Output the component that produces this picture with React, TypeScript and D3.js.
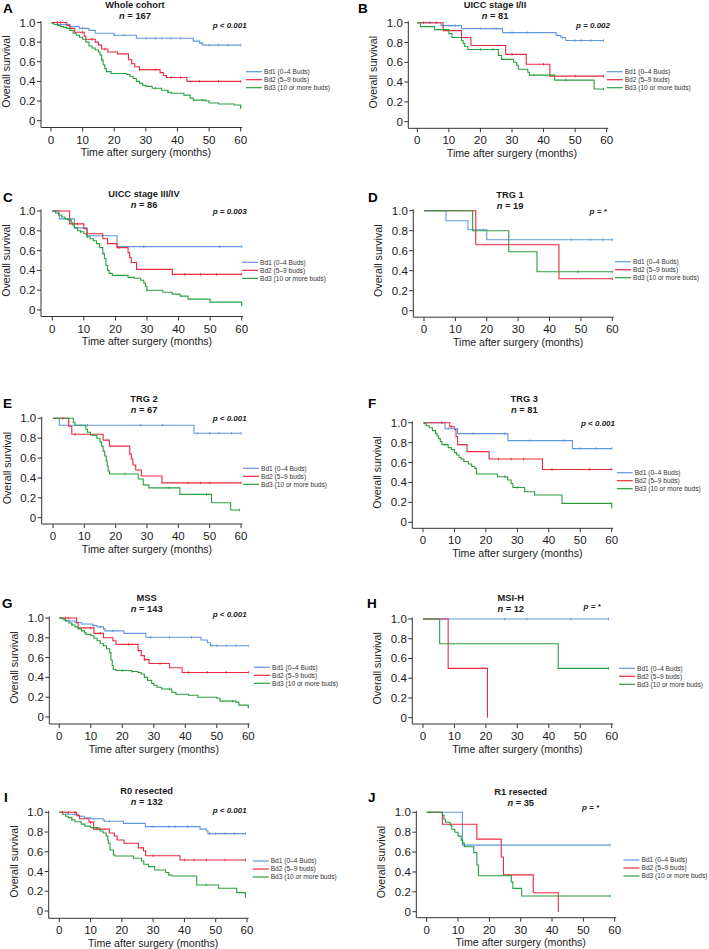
import React from "react";
import * as d3 from "d3";

type Pt = [number, number];

const seriesColors = ["#5f98e0", "#e8293f", "#2b9e3f"];
const legendLabels = ["Bd1 (0–4 Buds)", "Bd2 (5–9 buds)", "Bd3 (10 or more buds)"];
const xTicks = [0, 10, 20, 30, 40, 50, 60];
const yTicks = [0, 0.2, 0.4, 0.6, 0.8, 1.0];
const yTickLabels = ["0", "0.2", "0.4", "0.6", "0.8", "1.0"];

const panelLetters = ["A", "B", "C", "D", "E", "F", "G", "H", "I", "J"];
const panelTitles = ["Whole cohort", "UICC stage I/II", "UICC stage III/IV", "TRG 1", "TRG 2", "TRG 3", "MSS", "MSI-H", "R0 resected", "R1 resected"];
const panelN = ["167", "81", "86", "19", "67", "81", "143", "12", "132", "35"];
const panelP = ["p < 0.001", "p = 0.002", "p = 0.003", "p = *", "p < 0.001", "p < 0.001", "p < 0.001", "p = *", "p < 0.001", "p = *"];

// Kaplan–Meier steps: [time (months), survival from that time]
const stepsA: Pt[][] = [
  [[0,1],[2,0.98],[6,0.96],[9,0.94],[12,0.92],[14,0.89],[20,0.87],[27,0.84],[45,0.81],[47,0.79],[48,0.77],[60,0.77]],
  [[0,1],[5,0.97],[6,0.94],[7.5,0.9],[10.5,0.86],[11,0.83],[14,0.8],[15,0.77],[16,0.73],[18,0.7],[21,0.68],[24.5,0.62],[25.5,0.58],[26.5,0.55],[28,0.52],[34.5,0.49],[35.5,0.46],[36.5,0.44],[43,0.4],[60,0.4]],
  [[0,1],[0.5,0.99],[1,0.98],[2,0.97],[3,0.96],[4,0.95],[5,0.94],[6,0.92],[7,0.89],[8,0.87],[9,0.85],[10,0.83],[11,0.8],[12,0.76],[13,0.74],[14,0.72],[15,0.7],[15.5,0.67],[16,0.62],[16.5,0.57],[17,0.53],[17.5,0.5],[19,0.48],[24,0.47],[25,0.45],[26,0.43],[27,0.4],[28,0.38],[29,0.36],[30,0.35],[32,0.33],[35,0.31],[37,0.29],[38,0.28],[42,0.26],[44,0.23],[45,0.21],[49,0.2],[50,0.18],[53,0.17],[58,0.16],[60,0.13]],
];
const censorA = [
  [10,20,23,30,33,35,38,41,47.5,50,53,56,60],
  [2,3,10,13,17,28,33,38,41,47,53,60],
  [16,33,37,48,60],
];

const stepsB: Pt[][] = [
  [[0,1],[7.5,0.97],[14,0.94],[27,0.9],[44,0.87],[45.5,0.85],[47,0.82],[59,0.82]],
  [[0,1],[8.2,0.92],[14,0.85],[17,0.77],[28,0.68],[34.5,0.58],[42,0.46],[59,0.46]],
  [[0,1],[1,0.96],[5.5,0.93],[10,0.89],[11,0.85],[14,0.82],[14.5,0.79],[15,0.76],[16,0.73],[25.7,0.67],[26.7,0.63],[30.5,0.6],[31.5,0.57],[32,0.53],[35,0.5],[35.5,0.47],[43.5,0.42],[56,0.33],[59,0.33]],
];
const censorB = [
  [3,8,10,12,20,25,30,35,44.5,46,50,52,55,59],
  [2,4,6,30,40,50,59],
  [20,24,37,47,59],
];

const stepsC: Pt[][] = [
  [[0,1],[2.2,0.92],[7,0.83],[11,0.75],[20.5,0.64],[60,0.64]],
  [[0,1],[5.5,0.87],[10,0.82],[11,0.77],[16,0.72],[17.5,0.67],[20.5,0.63],[24,0.58],[24.5,0.53],[25,0.48],[26.7,0.41],[38,0.36],[60,0.36]],
  [[0,1],[1,0.98],[2,0.96],[3,0.94],[4,0.92],[5,0.91],[6,0.88],[6.5,0.86],[7,0.83],[8,0.8],[9,0.79],[10,0.77],[11,0.74],[12,0.72],[13,0.7],[14,0.67],[15,0.63],[16,0.57],[16.5,0.52],[17,0.45],[17.5,0.4],[18,0.37],[19,0.35],[24,0.33],[26,0.32],[28,0.3],[29,0.27],[29.5,0.24],[30,0.2],[35,0.18],[38,0.16],[40.5,0.14],[43,0.11],[50,0.08],[60,0.05]],
];
const censorC = [
  [29,53,60],
  [8,11,21,42,47,52,60],
  [9,11,16,30,60],
];

const stepsD: Pt[][] = [
  [[0,1],[7,0.9],[14,0.81],[20,0.71],[60,0.71]],
  [[0,1],[16.5,0.66],[43,0.32],[60,0.32]],
  [[0,1],[15.5,0.8],[27,0.59],[36,0.39],[60,0.39]],
];
const censorD = [
  [19,47,53,57,60],
  [60],
  [49,60],
];

const stepsE: Pt[][] = [
  [[0,1],[2,0.93],[45,0.85],[60,0.85]],
  [[0,1],[5,0.92],[6,0.84],[16,0.78],[18,0.72],[24.5,0.64],[25,0.59],[25.5,0.53],[26.4,0.48],[28.2,0.42],[34.8,0.35],[60,0.35]],
  [[0,1],[6.5,0.96],[7,0.93],[10.5,0.89],[11,0.86],[12,0.83],[14,0.8],[15,0.76],[15.5,0.72],[16,0.67],[16.5,0.62],[17,0.57],[17.3,0.52],[17.6,0.47],[18,0.44],[27.2,0.39],[28.8,0.33],[30.6,0.3],[40.5,0.235],[50.6,0.15],[56.7,0.077],[59.5,0.077]],
];
const censorE = [
  [7,9,11,28,35,46,50,53,57,60],
  [3,7,43,47,50,60],
  [23,37,49,59.5],
];

const stepsF: Pt[][] = [
  [[0,1],[7,0.94],[11,0.89],[27,0.82],[47.5,0.74],[60,0.74]],
  [[0,1],[8.5,0.96],[10,0.93],[10.5,0.86],[11,0.78],[14,0.71],[21,0.635],[38,0.53],[60,0.53]],
  [[0,1],[0.5,0.99],[1,0.97],[2,0.95],[3,0.92],[4,0.89],[4.5,0.866],[5,0.84],[5.5,0.81],[6,0.78],[8,0.75],[9,0.73],[10,0.7],[10.7,0.675],[11.5,0.65],[12.1,0.635],[13,0.61],[14.4,0.585],[15.5,0.56],[16.5,0.54],[17,0.485],[23.7,0.458],[26.9,0.425],[28,0.39],[28.6,0.35],[32.3,0.307],[35.5,0.274],[44.2,0.19],[60,0.15]],
];
const censorF = [
  [6,8,10,16,26,34,45,50,55,60],
  [6,9,24,28,32,41,53,60],
  [7,26,30,60],
];

const stepsG: Pt[][] = [
  [[0,1],[1.5,0.98],[2,0.97],[5,0.955],[7,0.94],[10.5,0.925],[12,0.91],[14,0.89],[14.5,0.87],[20.5,0.845],[27.5,0.805],[45,0.778],[47,0.75],[48,0.72],[60,0.72]],
  [[0,1],[5.5,0.95],[6,0.9],[11,0.845],[14,0.8],[17,0.77],[18,0.734],[25,0.67],[26,0.62],[27,0.58],[28.5,0.54],[35,0.498],[39,0.45],[60,0.45]],
  [[0,1],[1,0.99],[2,0.97],[3,0.95],[4,0.93],[5,0.91],[6,0.89],[7,0.87],[8,0.85],[8.5,0.835],[10,0.82],[11,0.795],[12,0.77],[13,0.74],[14,0.72],[15,0.69],[16,0.65],[16.4,0.576],[16.8,0.52],[17.1,0.48],[18,0.47],[23,0.46],[25,0.45],[26,0.434],[27,0.4],[28,0.37],[29.3,0.34],[30,0.32],[31,0.3],[32.5,0.283],[35.7,0.25],[37,0.23],[41,0.22],[44,0.2],[50,0.19],[51,0.16],[56,0.15],[57,0.12],[60,0.098]],
];
const censorG = [
  [3,11,13,17,29,35,42,48.5,50,53,56,60],
  [2,3,10,13,22,27,32,41,47,53,60],
  [4,20,23,35,55,60],
];

const stepsH: Pt[][] = [
  [[0,1],[59,1]],
  [[0,1],[8,0.5],[20.5,0]],
  [[0,1],[5.3,0.75],[43,0.5],[59,0.5]],
];
const censorH = [
  [6,26,33,47,59],
  [],
  [59],
];

const stepsI: Pt[][] = [
  [[0,1],[2.5,0.98],[6,0.96],[8,0.945],[10,0.935],[14,0.92],[14.5,0.91],[20.5,0.888],[27.5,0.855],[45,0.83],[47,0.81],[47.5,0.784],[59.5,0.784]],
  [[0,1],[5.5,0.97],[6.5,0.935],[9.5,0.9],[11,0.83],[16,0.79],[17.6,0.76],[18.5,0.72],[20.7,0.686],[25.3,0.64],[26.9,0.61],[27.6,0.56],[38.6,0.517],[59.5,0.517]],
  [[0,1],[1,0.98],[2,0.96],[2.9,0.946],[4,0.925],[5,0.905],[7,0.88],[8.2,0.86],[10,0.845],[12,0.84],[13,0.81],[14,0.79],[15,0.76],[15.5,0.72],[15.7,0.686],[16.2,0.618],[17.3,0.568],[17.8,0.557],[23.7,0.534],[26.3,0.507],[27,0.473],[28.5,0.45],[30.5,0.415],[34,0.39],[35,0.365],[36,0.355],[43.9,0.264],[50.9,0.23],[56.7,0.186],[59.5,0.145]],
];
const censorI = [
  [5,11,16,30,35,37,41,48,50,53,56,59.5],
  [1,3,5,10,12,30,40,43,47,53,59.5],
  [4,35,47,59.5],
];

const stepsJ: Pt[][] = [
  [[0,1],[11.4,0.67],[58.5,0.67]],
  [[0,1],[5,0.88],[16,0.73],[23.8,0.55],[24.5,0.37],[34,0.19],[42,0]],
  [[0,1],[5,0.97],[5.5,0.93],[6,0.9],[7.5,0.87],[8,0.83],[9,0.8],[10,0.76],[11,0.72],[11.5,0.69],[12,0.654],[15,0.594],[16,0.47],[16.5,0.362],[27,0.3],[27.5,0.235],[30.3,0.158],[58.5,0.158]],
];
const censorJ = [
  [58.5],
  [],
  [1,58.5],
];

const allSteps = [stepsA, stepsB, stepsC, stepsD, stepsE, stepsF, stepsG, stepsH, stepsI, stepsJ];
const allCensor = [censorA, censorB, censorC, censorD, censorE, censorF, censorG, censorH, censorI, censorJ];

// Layout (pixel frame of each panel)
const layouts = [
  { ax: 41, x0: 51, x60: 240.7, y1: 22.5, y0: 120.7, xa: 127.5, tx: 135, ty: 5, lx: 246, ly: 71.7, px: 246.7, py: 25, letX: 3, letY: 13 },
  { ax: 408.3, x0: 417.3, x60: 606.7, y1: 22.7, y0: 121.7, xa: 128.3, tx: 495, ty: 5, lx: 606.7, ly: 71.7, px: 610, py: 25, letX: 358, letY: 12.5 },
  { ax: 41, x0: 52.3, x60: 241.7, y1: 211, y0: 310, xa: 316.5, tx: 144, ty: 193.3, lx: 242, ly: 262.3, px: 246.7, py: 211, letX: 3, letY: 202 },
  { ax: 413.3, x0: 424, x60: 612.3, y1: 210.7, y0: 310.7, xa: 317.2, tx: 510, ty: 194.3, lx: 615, ly: 261.7, px: 606.7, py: 211, letX: 368, letY: 202 },
  { ax: 41.7, x0: 53, x60: 241, y1: 418.3, y0: 517.7, xa: 524, tx: 144, ty: 398.3, lx: 243, ly: 468.3, px: 246.7, py: 418.3, letX: 3, letY: 408 },
  { ax: 412.3, x0: 423, x60: 611.7, y1: 422.7, y0: 522.3, xa: 528.3, tx: 524.3, ty: 398.3, lx: 616.7, ly: 472.7, px: 615, py: 423.3, letX: 368, letY: 408 },
  { ax: 49.3, x0: 59.3, x60: 248.3, y1: 618, y0: 717, xa: 724, tx: 146.7, ty: 597.3, lx: 254, ly: 667.3, px: 246.7, py: 614.3, letX: 2, letY: 608 },
  { ax: 412.3, x0: 423, x60: 611.7, y1: 619, y0: 717.7, xa: 724, tx: 510.7, ty: 597.3, lx: 619, ly: 668.3, px: 600.7, py: 606, letX: 367, letY: 608 },
  { ax: 48.7, x0: 59.3, x60: 247, y1: 812.3, y0: 911, xa: 918.3, tx: 146.7, ty: 791, lx: 252.7, ly: 861, px: 246.7, py: 810, letX: 4, letY: 802 },
  { ax: 416.3, x0: 426.7, x60: 614.7, y1: 812.3, y0: 911.7, xa: 917.7, tx: 520.7, ty: 791.7, lx: 623.5, ly: 860, px: 599, py: 807.3, letX: 368, letY: 802 },
];

const FONT = "'Liberation Sans', Arial, Helvetica, sans-serif";
const TEXT = "#1a1a1a";
const AXIS = "#333";

function survAt(steps: Pt[], t: number) {
  let s = 1;
  for (const [tt, ss] of steps) {
    if (tt <= t + 1e-9) s = ss;
    else break;
  }
  return s;
}

function Panel({ i }: { i: number }) {
  const L = layouts[i];
  const x = d3.scaleLinear().domain([0, 60]).range([L.x0, L.x60]);
  const y = d3.scaleLinear().domain([0, 1]).range([L.y0, L.y1]);
  const line = d3
    .line<Pt>()
    .x((d) => x(d[0]))
    .y((d) => y(d[1]))
    .curve(d3.curveStepAfter);
  const steps = allSteps[i];
  const cens = allCensor[i];
  const midY = (L.y0 + L.y1) / 2;
  return (
    <g>
      <text x={L.letX} y={L.letY} fontSize={13.5} fontWeight="bold" fill="#000" fontFamily={FONT}>
        {panelLetters[i]}
      </text>
      <text x={L.tx} y={L.ty + 3.3} fontSize={9.3} fontWeight="bold" textAnchor="middle" fill={TEXT} fontFamily={FONT}>
        {panelTitles[i]}
      </text>
      <text x={L.tx} y={L.ty + 14.3} fontSize={9.3} fontWeight="bold" textAnchor="middle" fill={TEXT} fontFamily={FONT}>
        <tspan fontStyle="italic">n</tspan>
        {" = " + panelN[i]}
      </text>
      <text x={L.px} y={L.py + 2.8} fontSize={8} fontWeight="bold" fontStyle="italic" textAnchor="end" fill={TEXT} fontFamily={FONT}>
        {panelP[i]}
      </text>
      {/* axes */}
      <line x1={L.ax} x2={L.ax} y1={L.y1 - 1.5} y2={L.xa} stroke={AXIS} strokeWidth={1} />
      <line x1={L.ax} x2={L.x60 + 1.5} y1={L.xa} y2={L.xa} stroke={AXIS} strokeWidth={1} />
      {yTicks.map((v, k) => (
        <g key={"y" + k}>
          <line x1={L.ax - 4} x2={L.ax} y1={y(v)} y2={y(v)} stroke={AXIS} strokeWidth={1} />
          <text x={L.ax - 5.5} y={y(v) + 4} fontSize={11.5} textAnchor="end" fill={TEXT} fontFamily={FONT}>
            {yTickLabels[k]}
          </text>
        </g>
      ))}
      {xTicks.map((v) => (
        <g key={"x" + v}>
          <line x1={x(v)} x2={x(v)} y1={L.xa} y2={L.xa + 4} stroke={AXIS} strokeWidth={1} />
          <text x={x(v)} y={L.xa + 16} fontSize={11.5} textAnchor="middle" fill={TEXT} fontFamily={FONT}>
            {v}
          </text>
        </g>
      ))}
      <text x={(L.x0 + L.x60) / 2} y={L.xa + 28.5} fontSize={10.6} textAnchor="middle" fill={TEXT} fontFamily={FONT}>
        Time after surgery (months)
      </text>
      <text
        transform={`translate(${L.ax - 35},${midY}) rotate(-90)`}
        fontSize={10.6}
        textAnchor="middle"
        dominantBaseline="central"
        fill={TEXT}
        fontFamily={FONT}
      >
        Overall survival
      </text>
      {/* curves */}
      {steps.map((s, k) => (
        <path key={"c" + k} d={line(s) || ""} fill="none" stroke={seriesColors[k]} strokeWidth={1.1} />
      ))}
      {cens.map((cs, k) =>
        cs.map((t, j) => {
          const sv = survAt(steps[k], t);
          return (
            <line key={"m" + k + "-" + j} x1={x(t)} x2={x(t)} y1={y(sv) - 1.3} y2={y(sv) + 1.3} stroke={seriesColors[k]} strokeWidth={0.9} />
          );
        })
      )}
      {/* legend */}
      {legendLabels.map((lab, k) => (
        <g key={"l" + k}>
          <line x1={L.lx} x2={L.lx + 16} y1={L.ly + k * 8} y2={L.ly + k * 8} stroke={seriesColors[k]} strokeWidth={1.2} />
          <text x={L.lx + 18} y={L.ly + k * 8 + 2.4} fontSize={6.6} fill="#333" fontFamily={FONT}>
            {lab}
          </text>
        </g>
      ))}
    </g>
  );
}

export default function App() {
  return (
    <svg
      width={709}
      height={949}
      viewBox="0 0 709 949"
      style={{ position: "absolute", left: 0, top: 0, background: "#fff" }}
    >
      <rect x={0} y={0} width={709} height={949} fill="#fff" />
      {layouts.map((_, i) => (
        <Panel key={i} i={i} />
      ))}
    </svg>
  );
}
